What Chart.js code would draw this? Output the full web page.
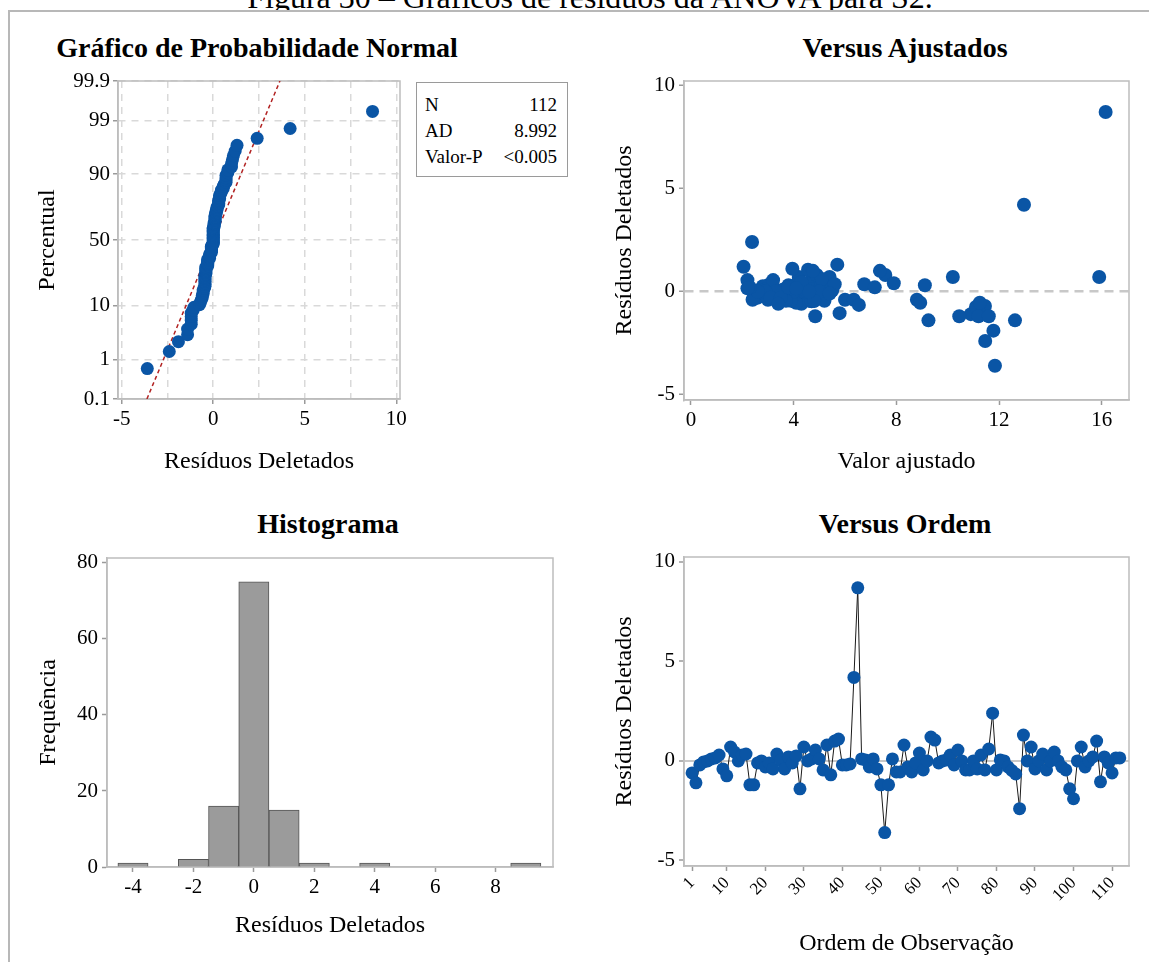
<!DOCTYPE html>
<html lang="pt">
<head>
<meta charset="utf-8">
<title>Gráficos de resíduos da ANOVA</title>
<script src="https://cdn.jsdelivr.net/npm/chart.js@4.4.1/dist/chart.umd.min.js"></script>
<style>
  html, body { margin: 0; padding: 0; background: #fff; }
  body { width: 1149px; height: 962px; position: relative; overflow: hidden;
         font-family: 'Liberation Serif', 'Times New Roman', serif; color: #000; }
  .frame-top { position: absolute; left: 8px; top: 10px; right: 0; border-top: 2px solid #b8b8b8; }
  .frame-left { position: absolute; left: 8px; top: 10px; bottom: 0; border-left: 2px solid #b8b8b8; }
  .caption-clip { position: absolute; left: 0; top: 0; width: 1149px; height: 10px; overflow: hidden; }
  .caption { position: absolute; left: 0; width: 1180px; top: -19px; text-align: center;
             font-size: 32px; line-height: 32px; white-space: nowrap; }
  canvas { position: absolute; }
  .ptitle { position: absolute; width: 500px; text-align: center; font-weight: bold;
            font-size: 28px; line-height: 32px; }
  #stats { position: absolute; left: 416px; top: 82px; width: 152px; height: 95px; box-sizing: border-box;
           border: 1px solid #9a9a9a; font-size: 19px; padding: 9px 10px 0 8px; }
  #stats div { display: flex; justify-content: space-between; line-height: 26px; }
</style>
</head>
<body>
<div class="caption-clip"><div class="caption">Figura 30 – Gráficos de resíduos da ANOVA para S2.</div></div>
<div class="frame-top"></div>
<div class="frame-left"></div>

<div class="ptitle" style="left:7px; top:32px;">Gráfico de Probabilidade Normal</div>
<div class="ptitle" style="left:655px; top:32px;">Versus Ajustados</div>
<div class="ptitle" style="left:78px; top:508px;">Histograma</div>
<div class="ptitle" style="left:655px; top:508px;">Versus Ordem</div>

<canvas id="normalChart" width="390" height="430" style="left:20px; top:50px;"></canvas>
<canvas id="fittedChart" width="540" height="430" style="left:600px; top:50px;"></canvas>
<canvas id="histChart" width="550" height="404" style="left:20px; top:540px;"></canvas>
<canvas id="orderChart" width="540" height="422" style="left:600px; top:540px;"></canvas>
<div id="stats"></div>

<script>
const residuals = [
  -0.6, -1.1, -0.2, -0.05, 0.0, 0.1, 0.15, 0.3, -0.4, -0.75,
  0.7, 0.45, 0.0, 0.3, 0.35, -1.2, -1.2, -0.1, 0.0, -0.3,
  -0.1, -0.4, 0.35, 0.05, -0.4, 0.2, -0.1, 0.25, -1.4, 0.7,
  0.0, 0.1, 0.55, 0.1, -0.45, 0.8, -0.7, 1.0, 1.1, -0.2,
  -0.2, -0.15, 4.2, 8.7, 0.1, 0.05, -0.3, 0.1, -0.4, -1.2,
  -3.6, -1.2, 0.1, -0.55, -0.55, 0.8, -0.3, -0.55, -0.1, 0.4,
  -0.45, 0.0, 1.2, 1.05, -0.1, 0.0, 0.05, 0.3, -0.2, 0.55,
  0.0, -0.45, -0.45, 0.0, -0.4, 0.3, -0.45, 0.6, 2.4, -0.45,
  0.05, 0.0, -0.3, -0.48, -0.65, -2.4, 1.3, 0.0, 0.7, -0.4,
  0.0, 0.35, -0.45, 0.0, 0.45, 0.0, -0.3, -0.45, -1.4, -1.9,
  0.0, 0.7, -0.3, 0.0, 0.2, 1.0, -1.05, 0.2, -0.1, -0.6,
  0.15, 0.15
];
// valores ajustados, mesma ordem
const fitted = [
  4.3, 10.9, 3.1, 2.6, 3.5, 4.4, 2.9, 3.8, 3.3, 11.1,
  5.4, 4.6, 2.4, 3.0, 6.75, 4.84, 10.45, 3.6, 4.9, 3.4,
  2.7, 6.0, 4.1, 5.2, 6.34, 7.16, 3.9, 2.8, 12.62, 4.2,
  5.0, 3.2, 2.2, 4.7, 4.0, 7.57, 11.45, 7.36, 3.95, 2.5,
  3.7, 4.5, 12.97, 16.15, 2.9, 5.5, 3.3, 4.3, 8.8, 11.2,
  11.84, 11.6, 3.6, 8.93, 11.25, 4.9, 2.6, 4.1, 5.3, 7.9,
  4.6, 3.1, 2.05, 4.56, 2.8, 4.2, 3.4, 5.1, 3.8, 3.2,
  2.5, 4.8, 3.5, 4.4, 3.0, 9.11, 5.2, 5.1, 2.38, 3.9,
  2.7, 4.0, 3.6, 4.7, 6.54, 11.46, 5.7, 3.3, 15.9, 2.4,
  4.5, 5.6, 3.7, 2.9, 4.3, 5.0, 3.1, 4.8, 9.25, 11.78,
  2.6, 10.2, 3.5, 4.6, 2.3, 4.75, 5.79, 3.8, 5.4, 3.4,
  4.1, 2.2
];
const histBins = [-4, -3, -2, -1, 0, 1, 2, 3, 4, 5, 6, 7, 8, 9];
const histCounts = [1, 0, 2, 16, 75, 15, 1, 0, 1, 0, 0, 0, 0, 1];

const probTicks = [0.1, 1, 10, 50, 90, 99, 99.9];
const normXTicks = [-5, -2.5, 0, 2.5, 5, 7.5, 10];
const residTicks = [-5, 0, 5, 10];
const fittedTicks = [0, 4, 8, 12, 16];
const histXTicks = [-4, -2, 0, 2, 4, 6, 8];
const histYTicks = [0, 20, 40, 60, 80];
const orderTicks = [1, 10, 20, 30, 40, 50, 60, 70, 80, 90, 100, 110];

const statLabels = ['N', 'AD', 'Valor-P'];
const statValues = ['112', '8.992', '<0.005'];

// inversa da normal padrão (aproximação de Acklam) para a escala de probabilidade
function probit(p) {
  const a = [-39.69683028665376, 220.9460984245205, -275.9285104469687, 138.3577518672690, -30.66479806614716, 2.506628277459239];
  const b = [-54.47609879822406, 161.5858368580409, -155.6989798598866, 66.80131188771972, -13.28068155288572];
  const c = [-0.007784894002430293, -0.3223964580411365, -2.400758277161838, -2.549732539343734, 4.374664141464968, 2.938163982698783];
  const d = [0.007784695709041462, 0.3224671290700398, 2.445134137142996, 3.754408661907416];
  const tail = q => (((((c[0]*q + c[1])*q + c[2])*q + c[3])*q + c[4])*q + c[5]) / ((((d[0]*q + d[1])*q + d[2])*q + d[3])*q + 1);
  if (p < 0.02425) return tail(Math.sqrt(-2 * Math.log(p)));
  if (p > 1 - 0.02425) return -tail(Math.sqrt(-2 * Math.log(1 - p)));
  const q = p - 0.5, r = q * q;
  return (((((a[0]*r + a[1])*r + a[2])*r + a[3])*r + a[4])*r + a[5]) * q / (((((b[0]*r + b[1])*r + b[2])*r + b[3])*r + b[4])*r + 1);
}

const n = residuals.length;
const sorted = residuals.slice().sort((x, y) => x - y);
const normalPts = sorted.map((v, i) => ({ x: v, y: probit((i + 1 - 0.3) / (n + 0.4)) }));
const mean = residuals.reduce((s, v) => s + v, 0) / n;
const sd = Math.sqrt(residuals.reduce((s, v) => s + (v - mean) ** 2, 0) / (n - 1));
const zLo = probit(probTicks[0] / 100);
const zHi = probit(probTicks[probTicks.length - 1] / 100);
const fitLine = [{ x: mean + sd * zLo, y: zLo }, { x: mean + sd * zHi, y: zHi }];

// caixa de estatísticas
document.getElementById('stats').innerHTML = statLabels
  .map((l, i) => `<div><span>${l}</span><span>${statValues[i]}</span></div>`).join('');

const SERIF = "'Liberation Serif', 'Times New Roman', serif";
Chart.defaults.font.family = SERIF;
Chart.defaults.color = '#000';
Chart.defaults.animation = false;
Chart.defaults.plugins.legend.display = false;
Chart.defaults.plugins.tooltip.enabled = false;

const BLUE = '#0a55a5';
const GRAY = '#bdbdbd';

// moldura completa em volta da área de plotagem
const framePlugin = {
  id: 'frame',
  beforeDatasetsDraw(chart) {
    const a = chart.chartArea, ctx = chart.ctx;
    ctx.save();
    ctx.strokeStyle = GRAY;
    ctx.lineWidth = 1.5;
    ctx.strokeRect(a.left, a.top, a.right - a.left, a.bottom - a.top);
    ctx.restore();
  }
};

const setTicks = list => s => { s.ticks = list.map(v => ({ value: v })); };
const fixWidth = w => s => { s.width = w; };
const fixHeight = h => s => { s.height = h; };
const axisTitle = text => ({ display: true, text: text, font: { family: SERIF, size: 24 }, padding: { top: 4, bottom: 4 } });
const tickMarks = { drawOnChartArea: false, tickLength: 5, tickWidth: 1.5, tickColor: '#9a9a9a' };
const axisBorder = { color: GRAY, width: 1.5 };
const tickFont = { family: SERIF, size: 21 };

function drawCharts() {
  // --- Gráfico de Probabilidade Normal ---
  new Chart(document.getElementById('normalChart'), {
    type: 'scatter',
    data: {
      datasets: [
        { data: normalPts, backgroundColor: BLUE, pointRadius: 6.5, pointBorderWidth: 0 },
        { data: fitLine, showLine: true, pointRadius: 0, borderColor: '#b22222', borderWidth: 1.5, borderDash: [4, 3] }
      ]
    },
    options: {
      responsive: false,
      events: [],
      layout: { padding: { left: 9, top: 31, right: 10, bottom: 0 } },
      scales: {
        x: {
          type: 'linear', min: -5.2, max: 10.2,
          afterBuildTicks: setTicks(normXTicks), afterFit: fixHeight(81),
          ticks: { font: tickFont, padding: 3, autoSkip: false, maxRotation: 0,
                   callback: v => (v % 5 === 0 ? v : '') },
          grid: { color: '#d9d9d9', lineWidth: 1.5, tickLength: 5, tickWidth: 1.5, tickBorderDash: [],
                  tickColor: c => (c.tick && c.tick.value % 5 === 0 ? '#9a9a9a' : 'rgba(0,0,0,0)') },
          border: { color: GRAY, width: 1.5, dash: [7, 6] },
          title: axisTitle('Resíduos Deletados')
        },
        y: {
          type: 'linear', min: zLo, max: zHi,
          afterBuildTicks: setTicks(probTicks.map(p => probit(p / 100))), afterFit: fixWidth(89),
          ticks: { font: tickFont, padding: 3, autoSkip: false, callback: (v, i) => String(probTicks[i]) },
          grid: { color: '#d9d9d9', lineWidth: 1.5, tickLength: 5, tickWidth: 1.5, tickColor: '#9a9a9a', tickBorderDash: [] },
          border: { color: GRAY, width: 1.5, dash: [7, 6] },
          title: axisTitle('Percentual')
        }
      }
    },
    plugins: [framePlugin]
  });

  // --- Versus Ajustados ---
  new Chart(document.getElementById('fittedChart'), {
    type: 'scatter',
    data: {
      datasets: [{
        data: fitted.map((f, i) => ({ x: f, y: residuals[i] })),
        backgroundColor: BLUE, pointRadius: 7, pointBorderWidth: 0
      }]
    },
    options: {
      responsive: false,
      events: [],
      layout: { padding: { left: 6, top: 31, right: 11, bottom: 0 } },
      scales: {
        x: {
          type: 'linear', min: -0.27, max: 17.06,
          afterBuildTicks: setTicks(fittedTicks), afterFit: fixHeight(80),
          ticks: { font: tickFont, padding: 3, autoSkip: false, maxRotation: 0 },
          grid: tickMarks, border: axisBorder,
          title: axisTitle('Valor ajustado')
        },
        y: {
          type: 'linear', min: -5.26, max: 10.2,
          afterBuildTicks: setTicks(residTicks), afterFit: fixWidth(78),
          ticks: { font: tickFont, padding: 4, autoSkip: false },
          grid: { drawOnChartArea: true, tickLength: 5, tickWidth: 1.5, tickColor: '#9a9a9a', tickBorderDash: [],
                  lineWidth: 2.5, color: c => (c.tick && c.tick.value === 0 ? '#c8c8c8' : 'rgba(0,0,0,0)') },
          border: { color: GRAY, width: 1.5, dash: [9, 6] },
          title: axisTitle('Resíduos Deletados')
        }
      }
    },
    plugins: [framePlugin]
  });

  // --- Histograma ---
  new Chart(document.getElementById('histChart'), {
    type: 'bar',
    data: {
      datasets: [{
        data: histBins.map((b, i) => ({ x: b, y: histCounts[i] || null })),
        backgroundColor: '#9b9b9b', borderColor: '#555', borderWidth: 1,
        barPercentage: 1, categoryPercentage: 1
      }]
    },
    options: {
      responsive: false,
      events: [],
      layout: { padding: { left: 10, top: 18, right: 17, bottom: 0 } },
      scales: {
        x: {
          type: 'linear', min: -4.86, max: 9.9, offset: false,
          afterBuildTicks: setTicks(histXTicks), afterFit: fixHeight(77),
          ticks: { font: tickFont, padding: 3, autoSkip: false, maxRotation: 0 },
          grid: Object.assign({}, tickMarks, { offset: false }), border: axisBorder,
          title: axisTitle('Resíduos Deletados')
        },
        y: {
          type: 'linear', min: 0, max: 81.3,
          afterBuildTicks: setTicks(histYTicks), afterFit: fixWidth(77),
          ticks: { font: tickFont, padding: 4, autoSkip: false },
          grid: tickMarks, border: axisBorder,
          title: axisTitle('Frequência')
        }
      }
    },
    plugins: [framePlugin]
  });

  // --- Versus Ordem ---
  new Chart(document.getElementById('orderChart'), {
    type: 'scatter',
    data: {
      datasets: [{
        data: residuals.map((v, i) => ({ x: i + 1, y: v })),
        showLine: true, borderColor: '#1a1a1a', borderWidth: 1,
        backgroundColor: BLUE, pointBackgroundColor: BLUE, pointRadius: 6.5, pointBorderWidth: 0
      }]
    },
    options: {
      responsive: false,
      events: [],
      layout: { padding: { left: 6, top: 17, right: 11, bottom: 0 } },
      scales: {
        x: {
          type: 'linear', min: -1.1, max: 114.4,
          afterBuildTicks: setTicks(orderTicks), afterFit: fixHeight(96),
          ticks: { font: { family: SERIF, size: 17 }, padding: 2, autoSkip: false, minRotation: 45, maxRotation: 45 },
          grid: tickMarks, border: axisBorder,
          title: axisTitle('Ordem de Observação')
        },
        y: {
          type: 'linear', min: -5.28, max: 10.25,
          afterBuildTicks: setTicks(residTicks), afterFit: fixWidth(78),
          ticks: { font: tickFont, padding: 4, autoSkip: false },
          grid: { drawOnChartArea: true, tickLength: 5, tickWidth: 1.5, tickColor: '#9a9a9a', tickBorderDash: [],
                  lineWidth: 2, color: c => (c.tick && c.tick.value === 0 ? '#c8c8c8' : 'rgba(0,0,0,0)') },
          border: axisBorder,
          title: axisTitle('Resíduos Deletados')
        }
      }
    },
    plugins: [framePlugin]
  });
}

// espera a fonte serifada estar disponível antes de desenhar nos canvas
Promise.all([
  document.fonts.load("21px 'Liberation Serif'"),
  document.fonts.load("24px 'Liberation Serif'")
]).then(drawCharts, drawCharts);
</script>
</body>
</html>
